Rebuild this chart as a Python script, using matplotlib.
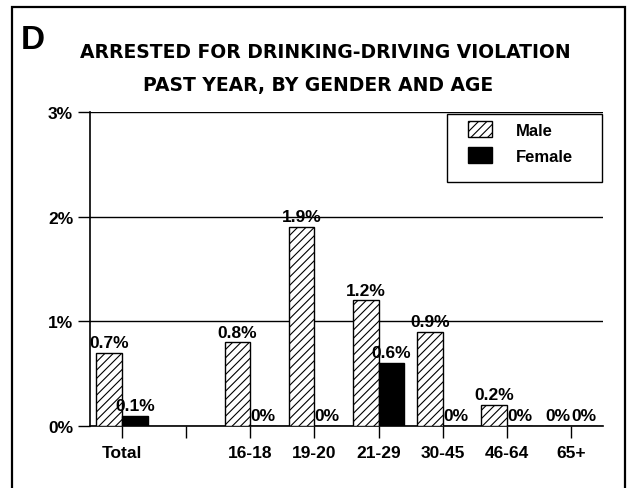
import matplotlib
matplotlib.use("Agg")
import matplotlib.pyplot as plt
from matplotlib.patches import Rectangle, Patch
import numpy as np

plt.rcParams['font.family'] = ['Liberation Sans', 'DejaVu Sans']
plt.rcParams['font.weight'] = 'bold'
plt.rcParams['hatch.linewidth'] = 0.8

# data (percent)
groups = ["Total", "", "16-18", "19-20", "21-29", "30-45", "46-64", "65+"]
positions = [0, 2, 3, 4, 5, 6, 7]
male = [0.7, 0.8, 1.9, 1.2, 0.9, 0.2, 0.0]
female = [0.1, 0.0, 0.0, 0.6, 0.0, 0.0, 0.0]
male_labels = ["0.7%", "0.8%", "1.9%", "1.2%", "0.9%", "0.2%", "0%"]
female_labels = ["0.1%", "0%", "0%", "0.6%", "0%", "0%", "0%"]

W, H = 635, 489
fig = plt.figure(figsize=(W / 100, H / 100), dpi=100)


def fx(px):
    return px / W


def fy(py):
    return 1 - py / H


# axes placed in pixel terms: left 90, right 603, top 113, bottom 427
ax = fig.add_axes([fx(90), fy(427), (603 - 90) / W, (427 - 113) / H])

bw = 0.4
x = np.array(positions)
ax.bar(x - bw / 2, male, bw, color='white', edgecolor='black', hatch='////',
       linewidth=1.0, zorder=3)
ax.bar(x + bw / 2, female, bw, color='black', edgecolor='black',
       linewidth=1.0, zorder=3)

for xi, v, s in zip(x, male, male_labels):
    ax.text(xi - bw / 2, v + 0.055, s, ha='center', va='baseline',
            fontsize=12.5, fontweight='bold', zorder=4)
for xi, v, s in zip(x, female, female_labels):
    ax.text(xi + bw / 2, v + 0.055, s, ha='center', va='baseline',
            fontsize=12.5, fontweight='bold', zorder=4)

ax.set_xlim(-0.5, 7.5)
ax.set_ylim(0, 3)
ax.set_xticks(range(8))
ax.set_xticklabels(groups, fontsize=12.5, fontweight='bold')
ax.set_yticks([0, 1, 2, 3])
ax.set_yticklabels(["0%", "1%", "2%", "3%"], fontsize=12.5, fontweight='bold')
ax.tick_params(axis='both', direction='out', length=8.6, width=1)
ax.tick_params(axis='x', pad=5)
ax.tick_params(axis='y', pad=3.5)
ax.yaxis.grid(True, color='black', linewidth=1.0, zorder=0)
ax.set_axisbelow(True)
for side in ['top', 'right']:
    ax.spines[side].set_visible(False)
ax.spines['left'].set_linewidth(1.2)
ax.spines['bottom'].set_linewidth(1.2)

# legend: box drawn separately, entries placed inside it
fig.patches.append(Rectangle((fx(447), fy(183)), (602 - 447) / W, (183 - 115) / H,
                             transform=fig.transFigure, facecolor='white',
                             edgecolor='black', linewidth=1.0, zorder=5))
leg = fig.legend(handles=[Patch(facecolor='white', edgecolor='black', hatch='////', label='Male'),
                          Patch(facecolor='black', edgecolor='black', label='Female')],
                 loc='upper left', bbox_to_anchor=(fx(468), fy(122)),
                 frameon=False, borderpad=0, borderaxespad=0,
                 handlelength=1.45, handleheight=1.1, handletextpad=1.4,
                 labelspacing=0.57, prop={'size': 12, 'weight': 'bold'})
leg.set_zorder(6)

fig.text(fx(325), fy(52), "ARRESTED FOR DRINKING-DRIVING VIOLATION",
         ha='center', va='center', fontsize=13.5, fontweight='bold',
         family='DejaVu Sans')
fig.text(fx(318), fy(86), "PAST YEAR, BY GENDER AND AGE",
         ha='center', va='center', fontsize=13.5, fontweight='bold',
         family='DejaVu Sans')
fig.text(fx(21), fy(49), "D", ha='left', va='baseline',
         fontsize=24, fontweight='bold')

# outer frame
fig.patches.append(Rectangle((fx(12), -0.1), (625 - 12) / W, 1.1 - 8 / H,
                             transform=fig.transFigure, fill=False,
                             edgecolor='black', linewidth=1.6))

plt.savefig('out.png', dpi=100)
